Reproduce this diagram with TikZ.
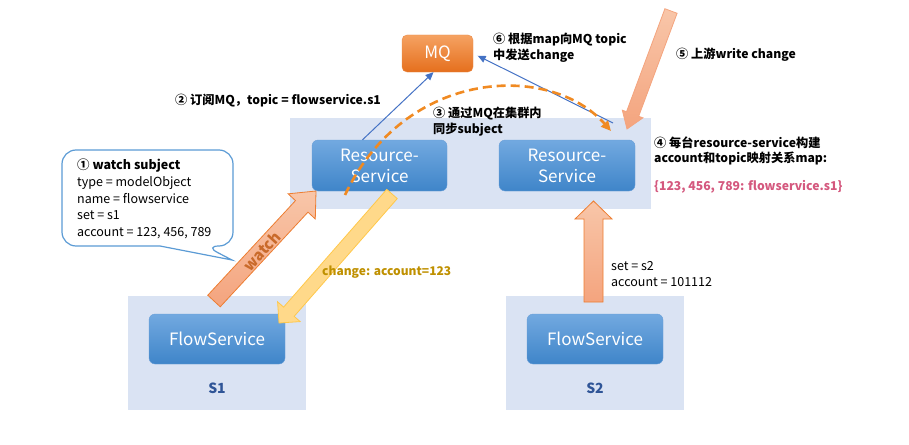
\documentclass[tikz,border=0pt]{standalone}
\usepackage{fontspec}
\setmainfont{Noto Sans CJK SC}
\usetikzlibrary{arrows.meta,positioning,calc}
\definecolor{clusterbg}{HTML}{DAE3F3}
\definecolor{svctop}{HTML}{72A9E0}
\definecolor{svcbot}{HTML}{3F85C9}
\definecolor{svcline}{HTML}{6A9FD8}
\definecolor{mqtop}{HTML}{F5A262}
\definecolor{mqbot}{HTML}{E56F1D}
\definecolor{linkblue}{HTML}{4472C4}
\definecolor{syncorange}{HTML}{F08A22}
\definecolor{salmon}{HTML}{F4A47E}
\definecolor{salmonlt}{HTML}{F8C6A9}
\definecolor{salmonline}{HTML}{ED7D31}
\definecolor{gold}{HTML}{FFD98A}
\definecolor{goldline}{HTML}{FFC84A}
\definecolor{goldtext}{HTML}{BF9000}
\definecolor{pinktext}{HTML}{D4587E}
\definecolor{setblue}{HTML}{2F5597}
\definecolor{bubbleline}{HTML}{5B9BD5}

% fat block arrow: style, from, to, half shaft, half head, head length
\newcommand\fatarrow[6]{%
  \coordinate (fah) at ($(#3)!#6!(#2)$);
  \draw[#1] ($(#2)!#4!90:(#3)$) -- ($(fah)!#4!-90:(#2)$) -- ($(fah)!#5!-90:(#2)$)
    -- (#3) -- ($(fah)!#5!90:(#2)$) -- ($(fah)!#4!90:(#2)$) -- ($(#2)!#4!-90:(#3)$) -- cycle;}

\begin{document}
\begin{tikzpicture}[x=1pt, y=-1pt,
    bg/.style={fill=clusterbg, inner sep=0pt},
    svc/.style={rounded corners=6pt, top color=svctop, bottom color=svcbot, draw=svcline,
                text=white, minimum width=136pt, minimum height=51pt, align=center,
                font=\fontsize{17}{21}\selectfont},
    mqbox/.style={rounded corners=5pt, top color=mqtop, bottom color=mqbot, draw=mqbot!80,
                  text=white, minimum width=71pt, minimum height=37pt,
                  font=\fontsize{17}{20}\selectfont},
    setlbl/.style={font=\fontsize{14}{16}\selectfont\bfseries, text=setblue},
    note/.style={font=\fontsize{12.2}{15.5}\selectfont\bfseries, anchor=west, align=left, inner sep=0pt},
    plain/.style={font=\fontsize{12.5}{16.7}\selectfont, anchor=west, align=left, inner sep=0pt},
    link/.style={-{Triangle[length=8pt,width=7pt]}, draw=linkblue, line width=1pt},
    sync/.style={-{Triangle[length=10pt,width=9pt]}, draw=syncorange, line width=2.6pt,
                 dash pattern=on 9pt off 5pt},
    bubble/.style={fill=white, draw=bubbleline, line width=1.2pt},
    watcharr/.style={top color=salmonlt, bottom color=salmon, draw=salmonline, line width=0.8pt},
    chgarr/.style={fill=gold, draw=goldline, line width=0.8pt},
    uparr/.style={top color=salmonlt, bottom color=salmon, draw=salmonline, line width=0.8pt},
    inarr/.style={top color=salmonlt, bottom color=salmon, draw=salmon, line width=0.8pt}
]
\useasboundingbox (0,0) rectangle (909,444);

% zones
\node[bg, minimum width=361pt, minimum height=91pt] (cluster) at (470.5,163.5) {};
\node[bg, minimum width=178pt, minimum height=114pt] (zone1) at (217,353) {};
\node[bg, minimum width=178pt, minimum height=114pt] (zone2) at (595,353) {};

% services
\node[svc, minimum width=135pt] (rsl) at (379.5,165.5) {Resource-\\Service};
\node[svc] (rsr) at (567,165.5) {Resource-\\Service};
\node[svc, minimum height=50pt] (fs1) at (217,339) {FlowService};
\node[svc, minimum height=50pt] (fs2) at (595,339) {FlowService};
\node[setlbl] (s1) at (217,388) {S1};
\node[setlbl] (s2) at (595,388) {S2};
\node[mqbox] (mq) at (437.5,53.5) {MQ};

% watch bubble
\draw[bubble] (232,260) -- (160,246) [rounded corners=14pt] -- (62,246) -- (62,150)
  -- (233,150) -- (233,246) -- (205,246) [sharp corners] -- cycle;
\node[plain] (subj) at (77,199) {\textbf{① watch subject}\\type = modelObject\\name = flowservice\\set = s1\\account = 123, 456, 789};

% block arrows
\coordinate (w0) at (214,301);
\coordinate (w1) at (316,191);
\fatarrow{watcharr}{w0}{w1}{8.5pt}{18.5pt}{21pt}
\node[rotate=47.4, text=salmonline!85!black, font=\fontsize{15}{17}\selectfont\bfseries] (watch) at (262,251) {watch};

\coordinate (c0) at (392,194);
\coordinate (c1) at (279,323);
\fatarrow{chgarr}{c0}{c1}{7pt}{15pt}{15pt}
\node[plain, text=goldtext, font=\fontsize{12}{15}\selectfont\bfseries] (chg) at (322,272) {change: account=123};

\coordinate (u0) at (593.5,302);
\coordinate (u1) at (593.5,201);
\fatarrow{uparr}{u0}{u1}{9.5pt}{18.5pt}{18pt}
\node[plain] (acc2) at (611,274) {set = s2\\account = 101112};

\coordinate (p0) at (671,11);
\coordinate (p1) at (627,129);
\fatarrow{inarr}{p0}{p1}{6.5pt}{11pt}{16pt}
\node[note] (n5) at (676,55) {⑤ 上游write change};

% MQ links
\coordinate (pub) at (613,123);
\draw[link] ([xshift=-17pt]rsl.north) -- ([xshift=-4pt]mq.south);
\draw[link, shorten >=5pt] (pub) -- (mq.east);
\coordinate (sync0) at (345,195);
\coordinate (sync1) at (611,131);
\draw[sync] (sync0) .. controls (405,68) and (550,62) .. (sync1);

% notes
\node[note] (n2) at (175,101) {② 订阅MQ，topic = flowservice.s1};
\node[note] (n6) at (493,47.5) {⑥ 根据map向MQ topic\\中发送change};
\node[note] (n3) at (433,121.5) {③ 通过MQ在集群内\\同步subject};
\node[note] (n4) at (654,151) {④ 每台resource-service构建\\account和topic映射关系map:};
\node[note, text=pinktext] (map) at (654,187) {\{123, 456, 789: flowservice.s1\}};
\end{tikzpicture}
\end{document}
